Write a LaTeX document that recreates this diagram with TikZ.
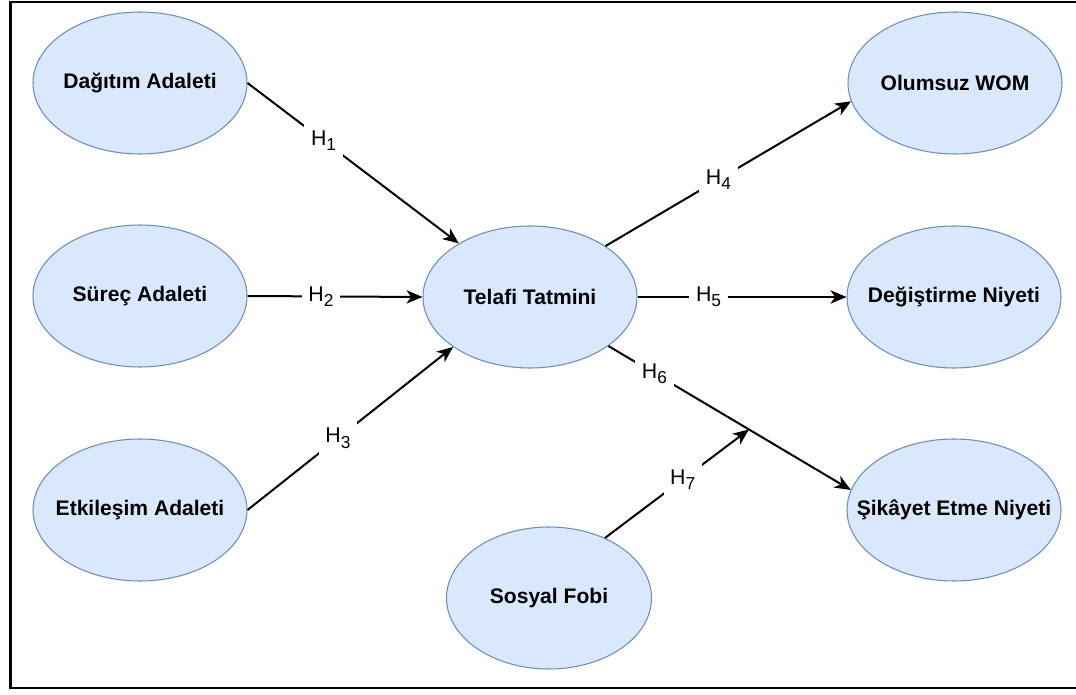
\documentclass[tikz,border=0pt]{standalone}
\usepackage{fontspec}
\setmainfont{Liberation Sans}
\usetikzlibrary{arrows.meta, shapes.geometric, calc}

\definecolor{ellipsefill}{HTML}{DAE8FC}
\definecolor{ellipseline}{HTML}{6C8EBF}

% text that does not widen its ellipse
\newcommand{\cname}[1]{\makebox[0pt]{#1}}
% hypothesis label, H with a large lowered index
\newcommand{\hyptext}[1]{H\raisebox{-3.8pt}{\fontsize{13}{13}\selectfont #1}}

\tikzset{
    construct/.style={ellipse, draw=ellipseline, fill=ellipsefill, line width=0.8pt,
        minimum width=160.5pt, minimum height=106.5pt, inner sep=0pt,
        font=\fontsize{15.8}{18}\selectfont\bfseries},
    link/.style={line width=1.5pt, -{Stealth[length=12pt, width=10pt, inset=3.5pt]}},
    hyp/.style={fill=white, inner sep=5pt, font=\fontsize{16}{18}\selectfont}
}

\begin{document}
\begin{tikzpicture}[x=0.75pt, y=-0.75pt]
\useasboundingbox (0,0) rectangle (1076,695);

% frame
\draw[line width=1.9pt] (1076,2) -- (10.5,2) -- (10.5,688) -- (1076,688);

% constructs
\node[construct] (dag) at (140,83) {\cname{Dağıtım Adaleti}};
\node[construct] (sur) at (140,296) {\cname{Süreç Adaleti}};
\node[construct] (etk) at (140,510) {\cname{Etkileşim Adaleti}};
\node[construct] (tt) at (530,297) {\cname{Telafi Tatmini}};
\node[construct] (wom) at (955,83) {\cname{Olumsuz WOM}};
\node[construct] (deg) at (954,297) {\cname{Değiştirme Niyeti}};
\node[construct] (sik) at (954,510) {\cname{Şikâyet Etme Niyeti}};
\node[construct, minimum width=153.75pt] (fobi) at (549,598) {\cname{Sosyal Fobi}};

% hypotheses
\draw[link] (dag.east) -- node[hyp, pos=0.36] {\hyptext{1}} (tt.143);
\draw[link] (sur.east) -- node[hyp, pos=0.42] {\hyptext{2}} (tt.west);
\draw[link] (etk.east) -- node[hyp, pos=0.44] {\hyptext{3}} (tt.213);
\draw[link] (tt.34) -- node[hyp, pos=0.46] {\hyptext{4}} (wom.190);
\draw[link] (tt.east) -- node[hyp, pos=0.34] {\hyptext{5}} (deg.west);
\draw[link] (tt.328) -- node[hyp, pos=0.19] {\hyptext{6}} coordinate[pos=0.58] (join) (sik.169);
\draw[link] (fobi.47) -- node[hyp, pos=0.54] {\hyptext{7}} (join);
\end{tikzpicture}
\end{document}
